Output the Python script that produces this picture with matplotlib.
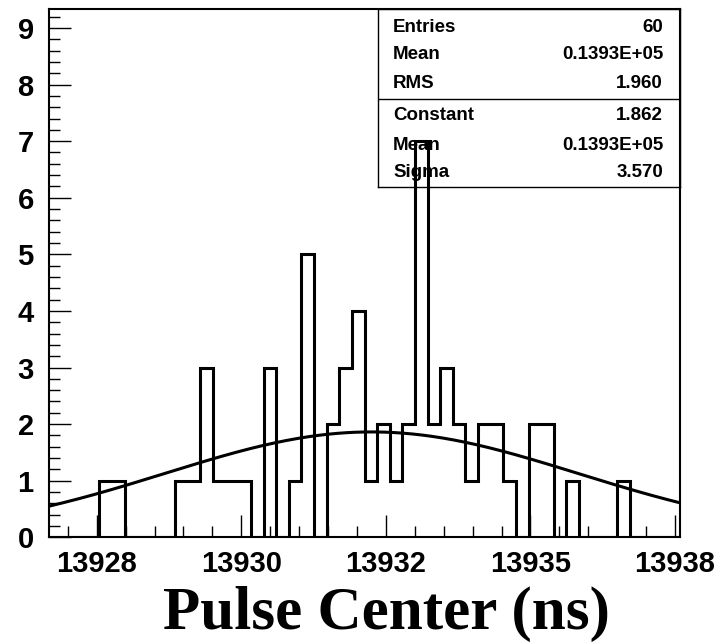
import numpy as np
import matplotlib
matplotlib.use('Agg')
import matplotlib.pyplot as plt

# Histogram: 50 bins of pulse center (ns)
X_MIN = 13926.675
X_MAX = 13937.586
counts = [0, 0, 0, 0, 1, 1, 0, 0, 0, 0,
          1, 1, 3, 1, 1, 1, 0, 3, 0, 1,
          5, 0, 2, 3, 4, 1, 2, 1, 2, 7,
          2, 3, 2, 1, 2, 2, 1, 0, 2, 2,
          0, 1, 0, 0, 0, 1, 0, 0, 0, 0]

# Gaussian fit parameters
fit_const = 1.862
fit_mean = 13932.25
fit_sigma = 3.570

# Axis ticks (ROOT prints the half-values rounded)
major_ticks = [13927.5, 13930.0, 13932.5, 13935.0, 13937.5]
major_labels = ['13928', '13930', '13932', '13935', '13938']
Y_MAX = 9.33

# Stats box contents
stats_top = [('Entries', '60'), ('Mean', '0.1393E+05'), ('RMS', '1.960')]
stats_fit = [('Constant', '1.862'), ('Mean', '0.1393E+05'), ('Sigma', '3.570')]

W, H = 721, 642
fig = plt.figure(figsize=(W / 100, H / 100), dpi=100)
ax = fig.add_axes([49 / W, 1 - 537.3 / H, 631 / W, 528 / H])

edges = np.linspace(X_MIN, X_MAX, len(counts) + 1)
ax.stairs(counts, edges, color='black', linewidth=2.2)

xs = np.linspace(X_MIN, X_MAX, 400)
ax.plot(xs, fit_const * np.exp(-0.5 * ((xs - fit_mean) / fit_sigma) ** 2),
        color='black', linewidth=2.2)

ax.set_xlim(X_MIN, X_MAX)
ax.set_ylim(0, Y_MAX)
ax.set_xticks(major_ticks)
ax.set_xticklabels(major_labels)
ax.set_xticks(np.arange(13927.0, 13937.6, 0.5), minor=True)
ax.set_yticks(range(10))
ax.set_yticks(np.arange(0, 9.3, 0.2), minor=True)
ax.tick_params(which='both', direction='in', width=1.0)
ax.tick_params(which='major', length=15.5)
ax.tick_params(which='minor', length=7.8)
ax.tick_params(axis='x', which='major', pad=9)
ax.tick_params(axis='y', which='major', pad=11)
for lab in ax.get_xticklabels() + ax.get_yticklabels():
    lab.set_fontfamily('Liberation Sans')
    lab.set_fontweight('bold')
    lab.set_fontsize(21)
for sp in ax.spines.values():
    sp.set_linewidth(1.5)

fig.text(386 / W, 1 - 629 / H, 'Pulse Center (ns)', ha='center', va='baseline',
         fontfamily='Liberation Serif', fontweight='bold', fontsize=44)

# stats box (transparent, drawn over the histogram)
box = fig.add_axes([378 / W, 1 - 187 / H, 302 / W, 177.7 / H])
box.set_facecolor('none')
box.set_xlim(0, 1)
box.set_ylim(0, 1)
box.set_xticks([])
box.set_yticks([])
for sp in box.spines.values():
    sp.set_linewidth(1.0)
box.axhline(0.495, color='black', linewidth=1.0)
rows_y = [0.900, 0.743, 0.580, 0.405, 0.236, 0.079]
for (name, val), y in zip(stats_top + stats_fit, rows_y):
    box.text(0.05, y, name, ha='left', va='center', fontfamily='Liberation Sans',
             fontweight='bold', fontsize=13.5)
    box.text(0.944, y, val, ha='right', va='center', fontfamily='Liberation Sans',
             fontweight='bold', fontsize=13.5)

fig.savefig('out.png', dpi=100)
